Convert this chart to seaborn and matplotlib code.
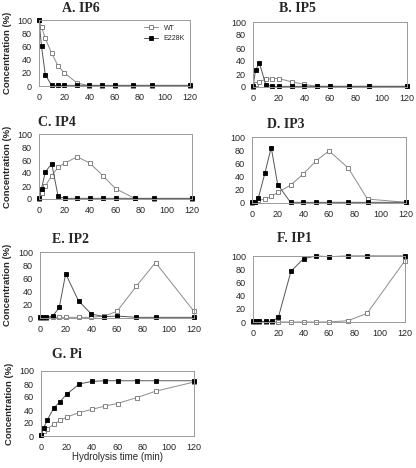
import matplotlib
matplotlib.use('Agg')
import matplotlib.pyplot as plt
import seaborn as sns
import pandas as pd

sns.set_style('white')
plt.rcParams['font.family'] = ['Liberation Sans', 'DejaVu Sans']

# hydrolysis time points (min)
time = [0, 2, 5, 10, 15, 20, 30, 40, 50, 60, 75, 90, 120]

# concentration (%)
ip6_wt = [100, 90, 72, 50, 31, 20, 5, 0, 0, 0, 0, 0, 0]
ip6_mut = [100, 60, 17, 1, 1, 1, 1, 1, 1, 1, 1, 1, 1]
ip5_wt = [0, 4, 8, 12, 13, 13, 8, 4, 1, 1, 1, 1, 1]
ip5_mut = [1, 26, 37, 3, 1, 1, 1, 1, 1, 1, 1, 1, 1]
ip4_wt = [0, 9, 20, 36, 49, 55, 65, 55, 36, 16, 1, 0, 0]
ip4_mut = [1, 16, 42, 54, 4, 1, 1, 1, 1, 1, 1, 1, 1]
ip3_wt = [0, 2, 4, 6, 10, 16, 27, 44, 64, 79, 53, 6, 1]
ip3_mut = [1, 2, 8, 45, 84, 28, 1, 1, 1, 1, 1, 1, 1]
ip2_wt = [0, 0, 0, 1, 1, 1, 1, 1, 3, 10, 48, 84, 10]
ip2_mut = [1, 1, 1, 3, 16, 67, 26, 6, 2, 3, 1, 1, 1]
ip1_wt = [0, 0, 0, 0, 0, 0, 0, 0, 0, 0, 2, 13, 93]
ip1_mut = [1, 1, 1, 1, 1, 7, 77, 96, 100, 99, 100, 100, 100]
pi_wt = [2, 8, 11, 18, 24, 29, 36, 41, 46, 50, 59, 69, 83]
pi_mut = [2, 12, 25, 43, 53, 64, 80, 84, 85, 85, 85, 85, 85]

titles = ['A. IP6', 'B. IP5', 'C. IP4', 'D. IP3', 'E. IP2', 'F. IP1', 'G. Pi']
wt_series = [ip6_wt, ip5_wt, ip4_wt, ip3_wt, ip2_wt, ip1_wt, pi_wt]
mut_series = [ip6_mut, ip5_mut, ip4_mut, ip3_mut, ip2_mut, ip1_mut, pi_mut]

W, H = 416, 468
# left, right, top, bottom in pixels; title x (axes fraction), title y (px)
boxes = [(39, 190, 20, 86, 0.28, 8),
         (253, 407, 22, 87, 0.29, 9),
         (39, 192, 134, 199, 0.12, 122),
         (252, 406, 137, 203, 0.22, 125),
         (40, 194, 252, 318, 0.20, 240),
         (253, 405, 256, 322, 0.27, 238),
         (41, 194, 371, 436, 0.17, 355)]

fig = plt.figure(figsize=(W / 100, H / 100), dpi=100)

for i, (l, r, t, b, tx, ty) in enumerate(boxes):
    ax = fig.add_axes([l / W, 1 - b / H, (r - l) / W, (b - t) / H])
    df = pd.DataFrame({'time': time, 'WT': wt_series[i], 'E228K': mut_series[i]})
    sns.lineplot(df, x='time', y='WT', ax=ax, color='#8c8c8c', linewidth=0.7,
                 marker='s', markersize=2.8, markerfacecolor='white',
                 markeredgecolor='#707070', markeredgewidth=0.6,
                 label='WT', clip_on=False)
    sns.lineplot(df, x='time', y='E228K', ax=ax, color='#555555', linewidth=0.7,
                 marker='s', markersize=2.8, markerfacecolor='black',
                 markeredgecolor='black', markeredgewidth=0.6,
                 label='E228K', clip_on=False)
    ax.set_xlim(0, 120)
    ax.set_ylim(0, 100)
    ax.set_xticks(range(0, 121, 20))
    ax.set_yticks(range(0, 101, 20))
    ax.tick_params(length=0, labelsize=6.5, pad=5)
    for s in ax.spines.values():
        s.set_color('#9a9a9a')
        s.set_linewidth(0.7)
    ax.set_xlabel('')
    if i % 2 == 0:
        ax.set_ylabel('Concentration (%)', fontsize=6.8, fontweight='bold', labelpad=4)
    else:
        ax.set_ylabel('')
    if i == 6:
        ax.set_xlabel('Hydrolysis time (min)', fontsize=7, labelpad=0)
    if i == 0:
        ax.legend(loc='upper right', fontsize=5, frameon=False, handlelength=2,
                  borderaxespad=0.3, labelspacing=0.5)
    else:
        ax.get_legend().remove()
    fig.text(l / W + tx * (r - l) / W, 1 - ty / H, titles[i], ha='center', va='center',
             fontsize=10, fontweight='bold', family=['Liberation Serif', 'DejaVu Serif'])

fig.savefig('out.png', dpi=100)
